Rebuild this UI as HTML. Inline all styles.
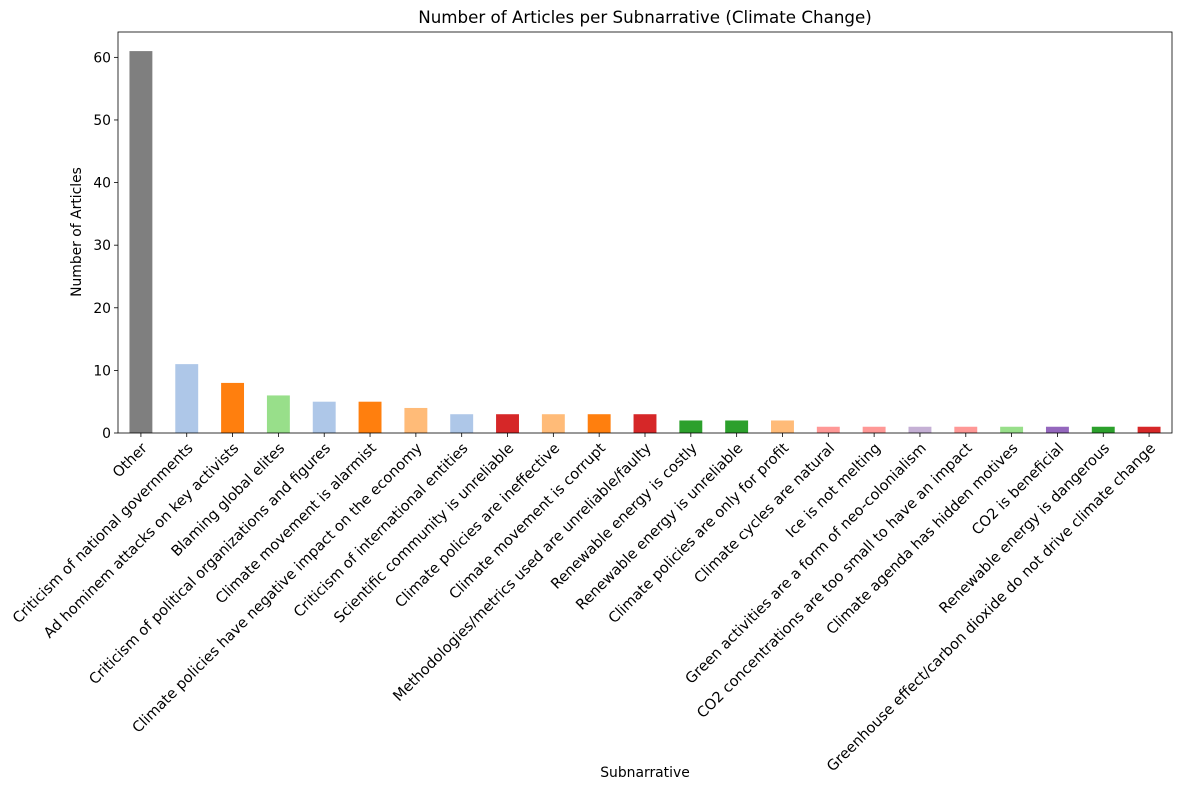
<!DOCTYPE html>
<html><head><meta charset="utf-8"><style>
body{margin:0;background:#fff}
svg text{font-family:"DejaVu Sans","Liberation Sans",sans-serif;fill:#000}
</style></head><body>
<svg id="chart" width="1181" height="790" xmlns="http://www.w3.org/2000/svg">
<text x="645" y="23" font-size="16.7" text-anchor="middle">Number of Articles per Subnarrative (Climate Change)</text>
<text transform="translate(81,232) rotate(-90)" font-size="13.9" text-anchor="middle">Number of Articles</text>
<text x="645" y="777" font-size="13.9" text-anchor="middle">Subnarrative</text>
<g id="plot"></g>
</svg>
<script>
const categories=["Other","Criticism of national governments","Ad hominem attacks on key activists","Blaming global elites","Criticism of political organizations and figures","Climate movement is alarmist","Climate policies have negative impact on the economy","Criticism of international entities","Scientific community is unreliable","Climate policies are ineffective","Climate movement is corrupt","Methodologies/metrics used are unreliable/faulty","Renewable energy is costly","Renewable energy is unreliable","Climate policies are only for profit","Climate cycles are natural","Ice is not melting","Green activities are a form of neo-colonialism","CO2 concentrations are too small to have an impact","Climate agenda has hidden motives","CO2 is beneficial","Renewable energy is dangerous","Greenhouse effect/carbon dioxide do not drive climate change"];
const values=[61,11,8,6,5,5,4,3,3,3,3,3,2,2,2,1,1,1,1,1,1,1,1];
const colors=["#7f7f7f","#aec7e8","#ff7f0e","#98df8a","#aec7e8","#ff7f0e","#ffbb78","#aec7e8","#d62728","#ffbb78","#ff7f0e","#d62728","#2ca02c","#2ca02c","#ffbb78","#ff9896","#ff9896","#c5b0d5","#ff9896","#98df8a","#9467bd","#2ca02c","#d62728"];
const yTicks=[0,10,20,30,40,50,60];
const L=118,R=1172,T=32,B=433;
const yMax=Math.max(...values)*1.05;
const y=v=>B-(v/yMax)*(B-T);
const step=(R-L)/categories.length;
const x=i=>L+step*(i+0.5);
const ns="http://www.w3.org/2000/svg";
const g=document.getElementById('plot');
function mk(t,a){const e=document.createElementNS(ns,t);for(const k in a)e.setAttribute(k,a[k]);g.appendChild(e);return e;}
values.forEach((v,i)=>{
  const r=mk('rect',{x:x(i)-step/4,y:y(v),width:step/2,height:B-y(v),fill:colors[i]});
  
  
  const tk=mk('line',{x1:x(i),x2:x(i),y1:B,y2:B+4,stroke:'#000','stroke-width':0.8});
  
  
  const t=mk('text',{transform:`translate(${x(i)+7},${B+16}) rotate(-45)`,'font-size':14.6,'text-anchor':'end'});
  t.textContent=categories[i];
  
  
});
yTicks.forEach(v=>{
  const tk=mk('line',{x1:L-4,x2:L,y1:y(v),y2:y(v),stroke:'#000','stroke-width':0.8});
  
  
  const t=mk('text',{x:L-7,y:y(v)+5,'font-size':13.9,'text-anchor':'end'});
  t.textContent=v;
  
  
});
const f=mk('rect',{x:L,y:T,width:R-L,height:B-T,fill:'none',stroke:'#000','stroke-width':0.8});


</script>
</body></html>
